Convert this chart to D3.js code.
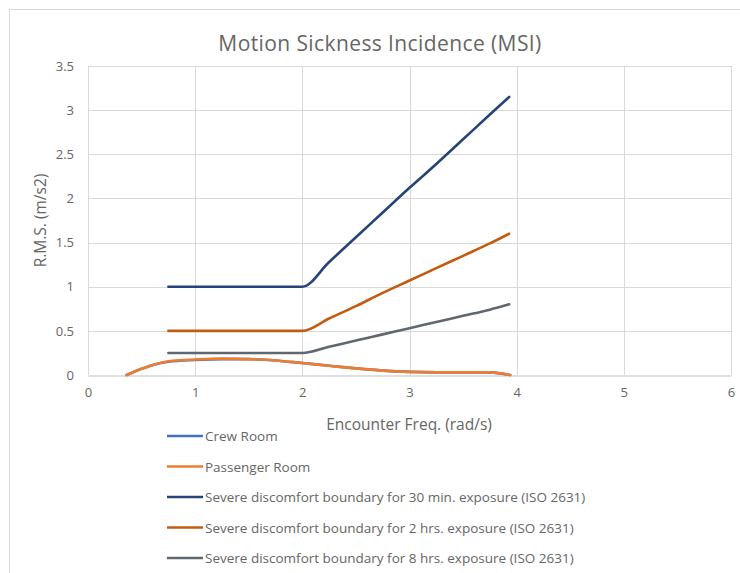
<!DOCTYPE html>
<html>
<head>
<meta charset="utf-8">
<script src="https://cdn.jsdelivr.net/npm/d3@7"></script>
<style>
  html, body { margin: 0; padding: 0; background: #fff; }
  svg { display: block; font-family: "Open Sans", "Liberation Sans", sans-serif; }
</style>
</head>
<body>
<svg id="chart" width="740" height="573"></svg>
<script>
// Measured response curves (rad/s vs r.m.s. vertical acceleration)
const roomFreq = [0.36, 0.5, 0.62, 0.75, 1.0, 1.25, 1.5, 1.75, 2.0, 2.25, 2.5, 2.75, 3.0, 3.25, 3.5, 3.75, 3.94];
const crewRoom = [0.0, 0.07, 0.12, 0.15, 0.17, 0.18, 0.18, 0.165, 0.135, 0.105, 0.075, 0.05, 0.035, 0.03, 0.03, 0.03, 0.0];
const passengerRoom = [0.0, 0.07, 0.12, 0.155, 0.175, 0.185, 0.18, 0.165, 0.135, 0.105, 0.075, 0.05, 0.035, 0.03, 0.03, 0.03, 0.0];

// ISO 2631 severe discomfort boundaries
const isoFreq = [0.75, 1.0, 1.25, 1.5, 1.75, 2.0, 2.25, 2.5, 2.75, 3.0, 3.25, 3.5, 3.75, 3.93];
const iso30min = [1.0, 1.0, 1.0, 1.0, 1.0, 1.0, 1.28, 1.56, 1.84, 2.12, 2.39, 2.67, 2.95, 3.15];
const iso2hrs = [0.5, 0.5, 0.5, 0.5, 0.5, 0.5, 0.64, 0.78, 0.93, 1.07, 1.21, 1.35, 1.49, 1.6];
const iso8hrs = [0.25, 0.25, 0.25, 0.25, 0.25, 0.25, 0.32, 0.39, 0.46, 0.53, 0.6, 0.67, 0.74, 0.8];

const xTicks = [0, 1, 2, 3, 4, 5, 6];
const yTicks = [0, 0.5, 1, 1.5, 2, 2.5, 3, 3.5];

const seriesNames = [
  "Crew Room",
  "Passenger Room",
  "Severe discomfort boundary for 30 min. exposure (ISO 2631)",
  "Severe discomfort boundary for 2 hrs. exposure (ISO 2631)",
  "Severe discomfort boundary for 8 hrs. exposure (ISO 2631)"
];
const seriesColors = ["#4472C4", "#ED7D31", "#264478", "#C55A11", "#5F6770"];

const series = [
  { name: seriesNames[0], color: seriesColors[0], x: roomFreq, y: crewRoom },
  { name: seriesNames[1], color: seriesColors[1], x: roomFreq, y: passengerRoom },
  { name: seriesNames[2], color: seriesColors[2], x: isoFreq, y: iso30min },
  { name: seriesNames[3], color: seriesColors[3], x: isoFreq, y: iso2hrs },
  { name: seriesNames[4], color: seriesColors[4], x: isoFreq, y: iso8hrs }
];

const svg = d3.select("#chart");
const W = 740, H = 573;
const plot = { left: 88, right: 731, top: 66, bottom: 375 };
const textColor = "#666666";

// chart area border
svg.append("rect")
  .attr("x", 9.5).attr("y", 9.5)
  .attr("width", W + 10).attr("height", H + 10)
  .attr("fill", "#fff").attr("stroke", "#d9d9d9");

const x = d3.scaleLinear().domain([0, 6]).range([plot.left, plot.right]);
const y = d3.scaleLinear().domain([0, 3.5]).range([plot.bottom, plot.top]);

// gridlines
svg.append("g")
  .selectAll("line").data(yTicks.filter(d => d > 0)).join("line")
  .attr("x1", plot.left).attr("x2", plot.right)
  .attr("y1", d => Math.round(y(d)) + 0.5).attr("y2", d => Math.round(y(d)) + 0.5)
  .attr("stroke", "#d9d9d9").attr("stroke-width", 1);
svg.append("g")
  .selectAll("line").data(xTicks).join("line")
  .attr("y1", plot.top).attr("y2", plot.bottom)
  .attr("x1", d => Math.round(x(d)) + 0.5).attr("x2", d => Math.round(x(d)) + 0.5)
  .attr("stroke", "#d9d9d9").attr("stroke-width", 1);

// axes
const xAxis = svg.append("g")
  .attr("transform", `translate(0,${Math.round(y(0)) + 0.5})`)
  .call(d3.axisBottom(x).tickValues(xTicks).tickSize(0).tickPadding(12).tickFormat(d3.format("d")));
xAxis.select(".domain").attr("stroke", "#bfbfbf");
xAxis.selectAll("text").attr("fill", textColor).attr("font-size", 13).attr("font-family", "Open Sans, sans-serif");

const yAxis = svg.append("g")
  .attr("transform", `translate(${plot.left},0)`)
  .call(d3.axisLeft(y).tickValues(yTicks).tickSize(0).tickPadding(14).tickFormat(d => String(d)));
yAxis.select(".domain").remove();
yAxis.selectAll("text").attr("fill", textColor).attr("font-size", 13).attr("font-family", "Open Sans, sans-serif");

// series lines
const line = d3.line().x(d => x(d[0])).y(d => y(d[1])).curve(d3.curveMonotoneX);
series.forEach(s => {
  svg.append("path")
    .datum(s.x.map((v, i) => [v, s.y[i]]))
    .attr("d", line)
    .attr("fill", "none")
    .attr("stroke", s.color)
    .attr("stroke-width", 2.6)
    .attr("stroke-linejoin", "round")
    .attr("stroke-linecap", "round");
});

// title and axis titles
svg.append("text")
  .attr("x", 380).attr("y", 51)
  .attr("text-anchor", "middle")
  .attr("fill", textColor).attr("font-size", 21).attr("letter-spacing", 0.4)
  .text("Motion Sickness Incidence (MSI)");

svg.append("text")
  .attr("transform", `translate(46,${(plot.top + plot.bottom) / 2}) rotate(-90)`)
  .attr("text-anchor", "middle")
  .attr("fill", textColor).attr("font-size", 15.5)
  .text("R.M.S. (m/s2)");

svg.append("text")
  .attr("x", 409).attr("y", 430)
  .attr("text-anchor", "middle")
  .attr("fill", textColor).attr("font-size", 15.5)
  .text("Encounter Freq. (rad/s)");

// legend
const legend = svg.append("g").attr("transform", "translate(167,436)");
series.forEach((s, i) => {
  const g = legend.append("g").attr("transform", `translate(0,${i * 30.5})`);
  g.append("line").attr("x1", 0).attr("x2", 36).attr("y1", 0).attr("y2", 0)
    .attr("stroke", s.color).attr("stroke-width", 2.6);
  g.append("text").attr("x", 38).attr("y", 5)
    .attr("fill", textColor).attr("font-size", 13.5)
    .text(s.name);
});
</script>
</body>
</html>
